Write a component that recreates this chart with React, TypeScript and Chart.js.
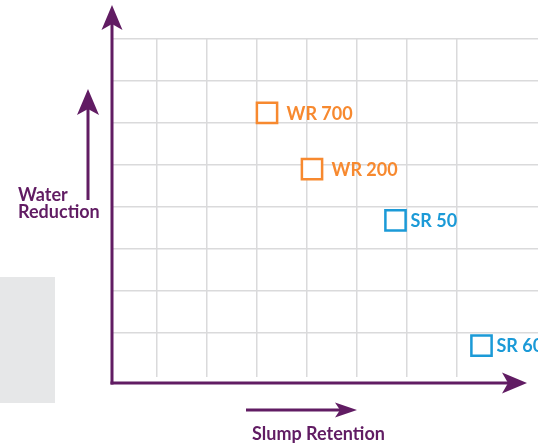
import { useEffect, useRef } from "react";
import { Chart, registerables } from "chart.js";

Chart.register(...registerables);

// ---- data ----
const wrLabels = ["WR 700", "WR 200"];
const wrX = [3.2, 4.1];
const wrY = [6.24, 4.9];
const srLabels = ["SR 50", "SR 60"];
const srX = [5.77, 7.49];
const srY = [3.68, 0.7];
const xGridTicks = [1, 2, 3, 4, 5, 6, 7];
const yGridTicks = [1, 2, 3, 4, 5, 6, 7, 8];
const xTitle = "Slump Retention";
const yTitle = ["Water", "Reduction"];

const ORANGE = "#f7892f";
const BLUE = "#1b9ad7";
const PURPLE = "#611c63";
const GRID = "#dadadb";
const FONT = "bold 18px Lato";

function arrowHead(ctx: CanvasRenderingContext2D, tx: number, ty: number, dir: "up" | "right", len: number, half: number, notch: number) {
  ctx.beginPath();
  if (dir === "up") {
    ctx.moveTo(tx, ty);
    ctx.lineTo(tx + half, ty + len);
    ctx.lineTo(tx, ty + len - notch);
    ctx.lineTo(tx - half, ty + len);
  } else {
    ctx.moveTo(tx, ty);
    ctx.lineTo(tx - len, ty - half);
    ctx.lineTo(tx - len + notch, ty);
    ctx.lineTo(tx - len, ty + half);
  }
  ctx.closePath();
  ctx.fill();
}

const decorPlugin = {
  id: "decor",
  beforeDraw(chart: any) {
    const ctx = chart.ctx as CanvasRenderingContext2D;
    ctx.save();
    ctx.fillStyle = "#e6e7e8";
    ctx.fillRect(0, 277, 55, 126);
    ctx.restore();
  },
  afterDatasetsDraw(chart: any) {
    const ctx = chart.ctx as CanvasRenderingContext2D;
    const a = chart.chartArea;
    ctx.save();
    ctx.strokeStyle = PURPLE;
    ctx.fillStyle = PURPLE;
    ctx.lineWidth = 3;
    const axisY = a.bottom + 6;
    const axisX = a.left;
    // y axis
    ctx.beginPath();
    ctx.moveTo(axisX, axisY + 1.5);
    ctx.lineTo(axisX, a.top - 20);
    ctx.stroke();
    arrowHead(ctx, axisX, a.top - 34, "up", 25, 10.5, 6);
    // x axis
    ctx.beginPath();
    ctx.moveTo(axisX - 1.5, axisY);
    ctx.lineTo(a.right - 20, axisY);
    ctx.stroke();
    arrowHead(ctx, a.right - 11, axisY, "right", 25, 10.5, 6);
    // small y arrow
    ctx.beginPath();
    ctx.moveTo(88, 200);
    ctx.lineTo(88, 102);
    ctx.stroke();
    arrowHead(ctx, 88, 89, "up", 26, 11, 6);
    // small x arrow
    ctx.beginPath();
    ctx.moveTo(246, 410);
    ctx.lineTo(345, 410);
    ctx.stroke();
    arrowHead(ctx, 357, 410, "right", 22, 7.5, 5);

    // titles
    ctx.font = FONT;
    ctx.textBaseline = "alphabetic";
    ctx.textAlign = "left";
    ctx.fillText(yTitle[0], 18, 201);
    ctx.fillText(yTitle[1], 18, 218);
    ctx.textAlign = "center";
    ctx.fillText(xTitle, 318.5, 440);

    // point labels
    ctx.textAlign = "left";
    ctx.textBaseline = "middle";
    chart.data.datasets.forEach((ds: any, di: number) => {
      const meta = chart.getDatasetMeta(di);
      ctx.fillStyle = ds.borderColor;
      meta.data.forEach((el: any, i: number) => {
        ctx.fillText(ds.pointLabels[i], el.x + ds.labelOffset, el.y + 1);
      });
    });
    ctx.restore();
  },
};

export default function App() {
  const ref = useRef<HTMLCanvasElement | null>(null);
  useEffect(() => {
    if (!ref.current) return;
    const chart = new Chart(ref.current, {
      type: "scatter",
      data: {
        datasets: [
          {
            label: "WR",
            data: wrX.map((x, i) => ({ x, y: wrY[i] })),
            pointLabels: wrLabels,
            labelOffset: 19.5,
            borderColor: ORANGE,
            backgroundColor: "#ffffff",
            pointStyle: "rect",
            pointRadius: 14.3,
            pointBorderWidth: 2.5,
          } as any,
          {
            label: "SR",
            data: srX.map((x, i) => ({ x, y: srY[i] })),
            pointLabels: srLabels,
            labelOffset: 15,
            borderColor: BLUE,
            backgroundColor: "#ffffff",
            pointStyle: "rect",
            pointRadius: 14.3,
            pointBorderWidth: 2.5,
          } as any,
        ],
      },
      options: {
        responsive: false,
        animation: false,
        devicePixelRatio: 1,
        layout: { autoPadding: false, padding: { left: 112, top: 39, right: 0, bottom: 69 } },
        plugins: { legend: { display: false }, tooltip: { enabled: false } },
        scales: {
          x: {
            type: "linear",
            min: 0.1,
            max: 8.62,
            afterBuildTicks: (s: any) => {
              s.ticks = xGridTicks.map((v) => ({ value: v }));
            },
            ticks: { display: false },
            border: { display: false },
            grid: { drawTicks: false, color: GRID, lineWidth: 1.5 },
          },
          y: {
            type: "linear",
            min: -0.0476,
            max: 8,
            afterBuildTicks: (s: any) => {
              s.ticks = yGridTicks.map((v) => ({ value: v }));
            },
            ticks: { display: false },
            border: { display: false },
            grid: { drawTicks: false, color: GRID, lineWidth: 1.5 },
          },
        },
      },
      plugins: [decorPlugin],
    });
    return () => chart.destroy();
  }, []);
  return (
    <div style={{ position: "fixed", left: 0, top: 0, width: 538, height: 446, background: "#fff" }}>
      <canvas ref={ref} width={538} height={446} style={{ width: 538, height: 446, display: "block" }} />
    </div>
  );
}
